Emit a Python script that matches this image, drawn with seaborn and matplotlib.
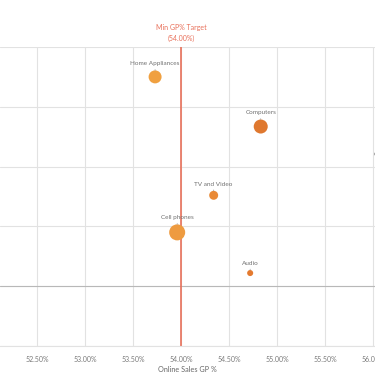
import matplotlib
matplotlib.use("Agg")
import matplotlib.pyplot as plt
import seaborn as sns
import pandas as pd

# -----------------------------------
# Data
# -----------------------------------
categories = ["Home Appliances", "Computers", "TV and Video", "Cell phones", "Audio",
              "Cameras and camcorders"]
gp_pct = [53.73, 54.83, 54.34, 53.96, 54.72, 56.38]      # Online Sales GP %
growth = [3.50, 2.67, 1.52, 0.90, 0.22, 2.00]            # y measure (axis hidden)
sales = [42, 49, 20, 64, 9, 30]                          # bubble size
colors = ["#F0A040", "#DF782F", "#E98A36", "#EE9B40", "#E47A2F", "#E8893A"]

x_ticks = [52.5, 53.0, 53.5, 54.0, 54.5, 55.0, 55.5, 56.0]
x_tick_labels = ["52.50%", "53.00%", "53.50%", "54.00%", "54.50%", "55.00%", "55.50%", "56.00%"]
y_ticks = [-1, 0, 1, 2, 3, 4]
target = 54.0

df = pd.DataFrame({"category": categories, "gp": gp_pct, "growth": growth, "sales": sales})

# -----------------------------------
# Plot
# -----------------------------------
sns.set_theme(style="white")
plt.rcParams["font.family"] = ["Lato", "DejaVu Sans"]

fig = plt.figure(figsize=(3.75, 3.75), dpi=100)
ax = fig.add_axes([0.0, 0.0773, 1.0, 0.7974])

sns.scatterplot(data=df, x="gp", y="growth", hue="category", palette=colors,
                size="sales", sizes=(19, 133), linewidth=0, legend=False,
                ax=ax, zorder=3, clip_on=True)

ax.set_xlim(52.115, 56.02)
ax.set_ylim(-1, 4)
ax.set_xticks(x_ticks)
ax.set_xticklabels(x_tick_labels, fontsize=5.0, color="#7a7a7a")
ax.set_yticks(y_ticks)
ax.tick_params(axis="x", length=0, pad=7)
ax.tick_params(axis="y", length=0, labelleft=False)
ax.grid(True, color="#e2e2e2", linewidth=0.8)
ax.axhline(0, color="#b8b8b8", linewidth=0.8, zorder=1)
for side in ["left", "right", "top"]:
    ax.spines[side].set_visible(False)
ax.spines["bottom"].set_color("#e2e2e2")
ax.spines["bottom"].set_linewidth(0.8)
ax.set_xlabel("Online Sales GP %", fontsize=5.2, color="#666666", labelpad=2)
ax.set_ylabel("")

# target line
ax.axvline(target, color="#E8705A", linewidth=1.2, zorder=2)
ax.text(target, 4.09, f"Min GP% Target\n({target:.2f}%)", ha="center", va="bottom",
        fontsize=5.0, color="#E8705A", linespacing=1.5, clip_on=False)

# point labels with small leader ticks
for cat, x, y, s in zip(categories, gp_pct, growth, sales):
    r = (19 + (s - 9) / 55 * 114) ** 0.5 / 2
    ax.annotate(cat, xy=(x, y), xytext=(0, r + 3), textcoords="offset points",
                ha="center", va="bottom", fontsize=4.6, color="#707070",
                arrowprops=dict(arrowstyle="-", color="#999999", lw=0.5,
                                shrinkA=0, shrinkB=r),
                annotation_clip=False)

plt.savefig("out.png", dpi=100)
plt.close()
